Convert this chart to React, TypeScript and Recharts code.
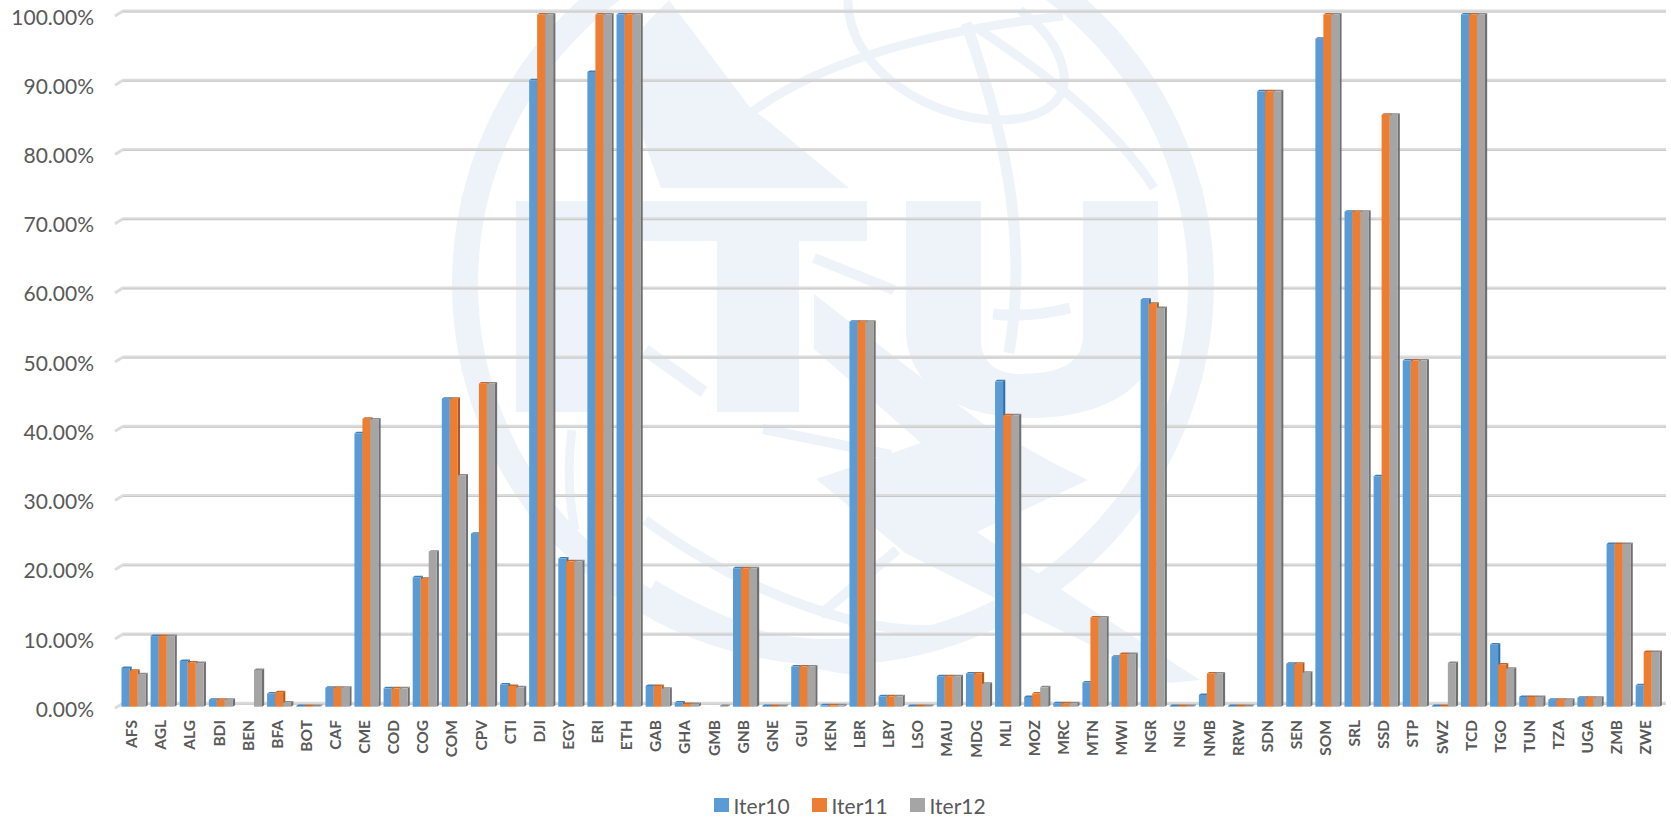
import React from "react";
import { BarChart, Bar, XAxis, YAxis, CartesianGrid, Legend } from "recharts";

const categories = ["AFS","AGL","ALG","BDI","BEN","BFA","BOT","CAF","CME","COD","COG","COM","CPV","CTI","DJI","EGY","ERI","ETH","GAB","GHA","GMB","GNB","GNE","GUI","KEN","LBR","LBY","LSO","MAU","MDG","MLI","MOZ","MRC","MTN","MWI","NGR","NIG","NMB","RRW","SDN","SEN","SOM","SRL","SSD","STP","SWZ","TCD","TGO","TUN","TZA","UGA","ZMB","ZWE"];
const iter10 = [5.6,10.2,6.6,1.0,0,1.9,0.1,2.75,39.5,2.65,18.7,44.5,25,3.2,90.5,21.4,91.7,100,3.0,0.6,0,20,0.1,5.8,0.2,55.6,1.5,0.1,4.4,4.8,47,1.4,0.5,3.5,7.2,58.8,0.1,1.7,0.1,88.9,6.2,96.5,71.5,33.3,50,0.1,100,9,1.4,1.0,1.3,23.5,3.1];
const iter11 = [5.2,10.2,6.4,1.0,0,2.1,0.1,2.75,41.6,2.65,18.5,44.5,46.7,3.0,100,21.0,100,100,3.0,0.4,0,20,0.1,5.8,0.2,55.6,1.5,0.1,4.4,4.8,42.1,1.9,0.5,12.9,7.6,58.2,0.1,4.8,0.1,88.9,6.2,100,71.5,85.5,50,0.1,100,6.1,1.4,1.0,1.3,23.5,7.9];
const iter12 = [4.7,10.2,6.3,1.0,5.3,0.6,0.1,2.75,41.5,2.65,22.4,33.4,46.7,2.8,100,21.0,100,100,2.6,0.4,0.1,20,0.1,5.8,0.2,55.6,1.5,0.1,4.4,3.3,42.1,2.8,0.5,12.9,7.6,57.6,0.1,4.8,0.1,88.9,4.9,100,71.5,85.5,50,6.3,100,5.5,1.4,1.0,1.3,23.5,7.9];
const yTicks = [0,10,20,30,40,50,60,70,80,90,100];
const seriesNames = ["Iter10","Iter11","Iter12"];
const seriesColors = ["#5b9bd5","#ed7d31","#a5a5a5"];
const sideColors = ["#2f6ea8","#ae5a1e","#6f6f6f"];
const topColors = ["#3f7fb9","#c4662a","#8a8a8a"];

const rows = categories.map((name, i) => ({ name, a: iter10[i], b: iter11[i], c: iter12[i] }));

const FONT = "Lato, Carlito, sans-serif";
const WM = "#eef3fa";

function make3D(idx: number) {
  return (p: any) => {
    const { x, y, width: w, height: h } = p;
    if (!h || h <= 0) return <g />;
    const d = 2.2;
    const r = 1.5;
    return (
      <g>
        <path d={`M${x + w} ${y} l${d} ${-r} V${y + h - r} L${x + w} ${y + h} Z`} fill={sideColors[idx]} />
        <path d={`M${x} ${y} l${d} ${-r} H${x + w + d} L${x + w} ${y} Z`} fill={topColors[idx]} />
        <rect x={x} y={y} width={w} height={h} fill={seriesColors[idx]} />
      </g>
    );
  };
}

const gridLine = (p: any) => {
  const { y1, key } = p;
  const y = y1 - 3.5;
  return (
    <g key={key ?? y1}>
      <path d={`M115 ${y + 5} L123 ${y}`} stroke="#dcdcdc" strokeWidth={3} fill="none" />
      <line x1={122.5} x2={1666} y1={y} y2={y} stroke="#dcdcdc" strokeWidth={3} />
      <line x1={123} x2={1666} y1={y + 1} y2={y + 1} stroke="#c9c9c9" strokeWidth={1} />
    </g>
  );
};

const YTick = (p: any) => (
  <text x={94} y={p.y + 2.5} dy="0.36em" textAnchor="end" fontFamily={FONT} fontSize={21} fill="#595959">
    {Number(p.payload.value).toFixed(2)}%
  </text>
);

const XTick = (p: any) => (
  <text
    transform={`translate(${p.x - 1.5} 720) rotate(-90)`}
    textAnchor="end"
    dy="0.36em"
    fontFamily={FONT}
    fontWeight={700}
    fontSize={15.5}
    fill="#595959"
  >
    {p.payload.value}
  </text>
);

const LegendBox = () => (
  <div style={{ position: "relative", height: 30, width: 300, fontFamily: FONT, fontSize: 21, color: "#595959" }}>
    {seriesNames.map((n, i) => (
      <div key={n} style={{ position: "absolute", left: [0, 98, 196][i], top: 0, display: "flex", alignItems: "center", height: 30 }}>
        <span style={{ width: 14.5, height: 14.5, background: seriesColors[i], marginRight: 5, display: "inline-block" }} />
        <span>{n}</span>
      </div>
    ))}
  </div>
);

const Watermark = () => (
  <svg width={1671} height={817} style={{ position: "absolute", left: 0, top: 0 }}>
    <circle cx={833} cy={284} r={368} fill="none" stroke={WM} strokeWidth={26} />
    <g fill={WM}>
      <path d="M669 0 L752 110 L763 117 L849 188 L661 188 L640 130 L640 30 Z" />
      <rect x={516} y={201} width={74} height={211} />
      <path d="M640 201 H867 V241 H799 V412 H717 V241 H640 Z" />
      <path d="M906 201 H981 V340 C981 365 1000 374 1020 374 C1065 374 1083 360 1083 335 V201 H1158 V330 C1158 390 1100 418 1030 418 C950 418 906 380 906 330 Z" />
      <path d="M814 294 L905 365 L985 425 L1057 465 L1088 480 L977 532 L1065 592 L1200 680 L1170 683 L1033 617 L905 553 L897 546 L816 479 L921 443 L814 349 Z" />
    </g>
    <g fill="none" stroke={WM} strokeWidth={9}>
      <path d="M752 112 Q850 40 1063 16" />
      <path d="M848 0 C848 70 930 119 998 120 C1050 120 1070 95 1063 69 C1058 45 1040 25 1020 10" />
      <path d="M966 23 C1000 120 1030 230 1009 353" strokeWidth={11} />
      <path d="M977 28 C1040 70 1110 120 1154 188" />
      <path d="M993 314 Q1030 318 1070 308" strokeWidth={11} />
      <path d="M814 258 L894 290" strokeWidth={10} />
      <path d="M645 350 L704 392" strokeWidth={12} />
      <path d="M763 429 L891 455" strokeWidth={10} />
      <path d="M572 430 Q565 480 575 530" />
      <path d="M645 520 Q740 590 850 620 Q930 640 990 620" strokeWidth={10} />
      <path d="M650 590 Q750 650 860 665" strokeWidth={22} />
      <path d="M897 550 L820 615" strokeWidth={10} />
    </g>
  </svg>
);

export default function App() {
  return (
    <div style={{ position: "absolute", left: 0, top: 0, width: 1671, height: 817, background: "#fff", overflow: "hidden" }}>
      <Watermark />
      <div style={{ position: "absolute", left: 0, top: 0 }}>
        <BarChart
          width={1671}
          height={817}
          data={rows}
          barSize={8}
          barGap={0}
          margin={{ top: 14.5, right: 9.2, bottom: 20.3, left: 0 }}
        >
          <CartesianGrid vertical={false} horizontal={gridLine as any} stroke="#dcdcdc" />
          <XAxis dataKey="name" interval={0} axisLine={false} tickLine={false} height={60} tick={XTick as any} />
          <YAxis domain={[0, 100]} ticks={yTicks} width={118.5} axisLine={false} tickLine={false} tick={YTick as any} />
          <Legend content={LegendBox as any} height={30} wrapperStyle={{ left: 714, top: 790, width: 300, height: 30 }} />
          <Bar dataKey="a" name={seriesNames[0]} fill={seriesColors[0]} shape={make3D(0) as any} isAnimationActive={false} />
          <Bar dataKey="b" name={seriesNames[1]} fill={seriesColors[1]} shape={make3D(1) as any} isAnimationActive={false} />
          <Bar dataKey="c" name={seriesNames[2]} fill={seriesColors[2]} shape={make3D(2) as any} isAnimationActive={false} />
        </BarChart>
      </div>
    </div>
  );
}
